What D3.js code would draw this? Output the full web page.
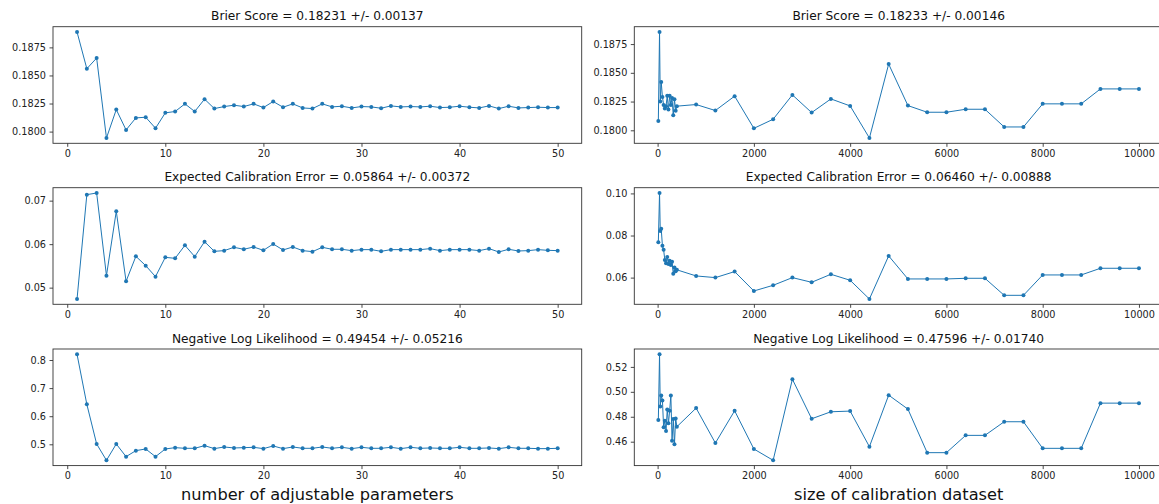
<!DOCTYPE html>
<html>
<head>
<meta charset="utf-8">
<script src="https://cdn.jsdelivr.net/npm/d3@7"></script>
<style>
  body { margin: 0; background: #fff; }
  text { font-family: "DejaVu Sans", sans-serif; }
</style>
</head>
<body>
<svg id="chart" width="1159" height="504"></svg>
<script>
// number of adjustable parameters
const params = [1, 2, 3, 4, 5, 6, 7, 8, 9, 10, 11, 12, 13, 14, 15, 16, 17, 18, 19, 20,
  21, 22, 23, 24, 25, 26, 27, 28, 29, 30, 31, 32, 33, 34, 35, 36, 37, 38, 39, 40,
  41, 42, 43, 44, 45, 46, 47, 48, 49, 50];

const brierParams = [0.18887, 0.18560, 0.18655, 0.17943, 0.18196, 0.18015, 0.18122, 0.18128, 0.18030, 0.18167,
  0.18179, 0.18247, 0.18179, 0.18289, 0.18205, 0.18223, 0.18235, 0.18223, 0.18247, 0.18214,
  0.18268, 0.18217, 0.18247, 0.18211, 0.18205, 0.18247, 0.18220, 0.18226, 0.18211, 0.18223,
  0.18220, 0.18208, 0.18229, 0.18220, 0.18223, 0.18220, 0.18226, 0.18214, 0.18217, 0.18226,
  0.18217, 0.18211, 0.18229, 0.18205, 0.18226, 0.18211, 0.18214, 0.18217, 0.18214, 0.18214];

const eceParams = [0.04739, 0.07138, 0.07176, 0.05276, 0.06755, 0.05146, 0.05720, 0.05506, 0.05253, 0.05697,
  0.05674, 0.05973, 0.05713, 0.06057, 0.05835, 0.05851, 0.05927, 0.05882, 0.05935, 0.05858,
  0.06004, 0.05866, 0.05935, 0.05851, 0.05828, 0.05927, 0.05882, 0.05882, 0.05851, 0.05874,
  0.05874, 0.05835, 0.05874, 0.05874, 0.05874, 0.05874, 0.05897, 0.05851, 0.05874, 0.05874,
  0.05874, 0.05851, 0.05897, 0.05820, 0.05882, 0.05843, 0.05851, 0.05874, 0.05858, 0.05851];

const nllParams = [0.8203, 0.6423, 0.5012, 0.4431, 0.5012, 0.4561, 0.4775, 0.4834, 0.4561, 0.4834,
  0.4881, 0.4858, 0.4858, 0.4953, 0.4846, 0.4905, 0.4870, 0.4881, 0.4893, 0.4846,
  0.4941, 0.4846, 0.4905, 0.4858, 0.4858, 0.4905, 0.4858, 0.4893, 0.4846, 0.4893,
  0.4858, 0.4858, 0.4893, 0.4846, 0.4893, 0.4858, 0.4870, 0.4858, 0.4858, 0.4893,
  0.4858, 0.4858, 0.4870, 0.4846, 0.4893, 0.4858, 0.4858, 0.4846, 0.4846, 0.4858];

// size of calibration dataset
const sizes = [15, 40, 55, 75, 100, 125, 150, 175, 200, 225, 250, 275, 300, 325, 350, 375, 400,
  800, 1200, 1600, 2000, 2400, 2800, 3200, 3600, 4000, 4400, 4800, 5200, 5600, 6000,
  6400, 6800, 7200, 7600, 8000, 8400, 8800, 9200, 9600, 10000];

const brierSizes = [0.18081, 0.18855, 0.18250, 0.18420, 0.18290, 0.18220, 0.18190, 0.18210, 0.18300, 0.18180,
  0.18300, 0.18220, 0.18280, 0.18130, 0.18270, 0.18170, 0.18210,
  0.18224, 0.18172, 0.18297, 0.18017, 0.18096, 0.18308, 0.18154, 0.18273, 0.18212, 0.17933,
  0.18576, 0.18215, 0.18157, 0.18157, 0.18183, 0.18183, 0.18029, 0.18029, 0.18230, 0.18230,
  0.18230, 0.18360, 0.18360, 0.18360];

const eceSizes = [0.0768, 0.1002, 0.0822, 0.0832, 0.0751, 0.0732, 0.0684, 0.0668, 0.0698, 0.0665,
  0.0680, 0.0660, 0.0675, 0.0618, 0.0648, 0.0630, 0.0637,
  0.06079, 0.06000, 0.06286, 0.05365, 0.05635, 0.06000, 0.05778, 0.06159, 0.05873, 0.04984,
  0.07032, 0.05937, 0.05937, 0.05937, 0.05968, 0.05968, 0.05159, 0.05159, 0.06127, 0.06127,
  0.06127, 0.06444, 0.06444, 0.06444];

const nllSizes = [0.4773, 0.5301, 0.4883, 0.4971, 0.4931, 0.4715, 0.4768, 0.4685, 0.4859, 0.4747,
  0.4848, 0.4971, 0.4608, 0.4781, 0.4579, 0.4787, 0.4720,
  0.48693, 0.45893, 0.48480, 0.45413, 0.44507, 0.51013, 0.47840, 0.48400, 0.48453, 0.45600,
  0.49733, 0.48613, 0.45120, 0.45120, 0.46507, 0.46507, 0.47600, 0.47600, 0.45467, 0.45467,
  0.45467, 0.49093, 0.49093, 0.49093];

const titles = [
  "Brier Score = 0.18231 +/- 0.00137", "Brier Score = 0.18233 +/- 0.00146",
  "Expected Calibration Error = 0.05864 +/- 0.00372", "Expected Calibration Error = 0.06460 +/- 0.00888",
  "Negative Log Likelihood = 0.49454 +/- 0.05216", "Negative Log Likelihood = 0.47596 +/- 0.01740"
];

const paramTicks = [0, 10, 20, 30, 40, 50];
const sizeTicks = [0, 2000, 4000, 6000, 8000, 10000];
const yTicks = [
  [0.18, 0.1825, 0.185, 0.1875], [0.18, 0.1825, 0.185, 0.1875],
  [0.05, 0.06, 0.07], [0.06, 0.08, 0.10],
  [0.5, 0.6, 0.7, 0.8], [0.46, 0.48, 0.50, 0.52]
];
const yFormats = [".4f", ".4f", ".2f", ".2f", ".1f", ".2f"];
const xLabels = ["number of adjustable parameters", "size of calibration dataset"];

// layout
const colLeft = [53, 634.3];
const rowTop = [26.7, 187.7, 349];
const plotW = 528.7, plotH = 116.6;
const color = "#1f77b4";

const svg = d3.select("#chart");

const panels = [
  { x: params, y: brierParams, xt: paramTicks },
  { x: sizes, y: brierSizes, xt: sizeTicks },
  { x: params, y: eceParams, xt: paramTicks },
  { x: sizes, y: eceSizes, xt: sizeTicks },
  { x: params, y: nllParams, xt: paramTicks },
  { x: sizes, y: nllSizes, xt: sizeTicks }
];

// matplotlib style 5% margins
function padded(vals) {
  const [lo, hi] = d3.extent(vals);
  const m = (hi - lo) * 0.05;
  return [lo - m, hi + m];
}

panels.forEach((p, i) => {
  const col = i % 2, row = Math.floor(i / 2);
  const g = svg.append("g").attr("transform", `translate(${colLeft[col]},${rowTop[row]})`);

  const x = d3.scaleLinear().domain(padded(p.x)).range([0, plotW]);
  const y = d3.scaleLinear().domain(padded(p.y)).range([plotH, 0]);

  const xAxis = g.append("g")
    .attr("transform", `translate(0,${plotH})`)
    .call(d3.axisBottom(x).tickValues(p.xt).tickSize(3.5).tickPadding(3.5).tickFormat(d3.format("d")));
  const yAxis = g.append("g")
    .call(d3.axisLeft(y).tickValues(yTicks[i]).tickSize(3.5).tickPadding(3.5).tickFormat(d3.format(yFormats[i])));

  [xAxis, yAxis].forEach(a => {
    a.select(".domain").remove();
    a.selectAll(".tick line").attr("stroke", "#333").attr("stroke-width", 0.9);
    a.selectAll(".tick text").attr("fill", "#222").attr("font-size", "9.7px")
      .style("font-family", "DejaVu Sans, sans-serif");
  });

  const line = d3.line().x((d, j) => x(p.x[j])).y(d => y(d));
  g.append("path")
    .datum(p.y)
    .attr("fill", "none")
    .attr("stroke", color)
    .attr("stroke-width", 1)
    .attr("d", line);

  g.selectAll("circle")
    .data(p.y)
    .enter().append("circle")
    .attr("cx", (d, j) => x(p.x[j]))
    .attr("cy", d => y(d))
    .attr("r", 2)
    .attr("fill", color);

  g.append("rect")
    .attr("width", plotW).attr("height", plotH)
    .attr("fill", "none")
    .attr("stroke", "#333")
    .attr("stroke-width", 0.9);

  g.append("text")
    .attr("x", plotW / 2).attr("y", -6.5)
    .attr("text-anchor", "middle")
    .attr("font-size", "12.2px")
    .attr("fill", "#111")
    .text(titles[i]);

  if (row === 2) {
    g.append("text")
      .attr("x", plotW / 2).attr("y", plotH + 34)
      .attr("text-anchor", "middle")
      .attr("font-size", "16.2px")
      .attr("fill", "#111")
      .text(xLabels[col]);
  }
});
</script>
</body>
</html>
